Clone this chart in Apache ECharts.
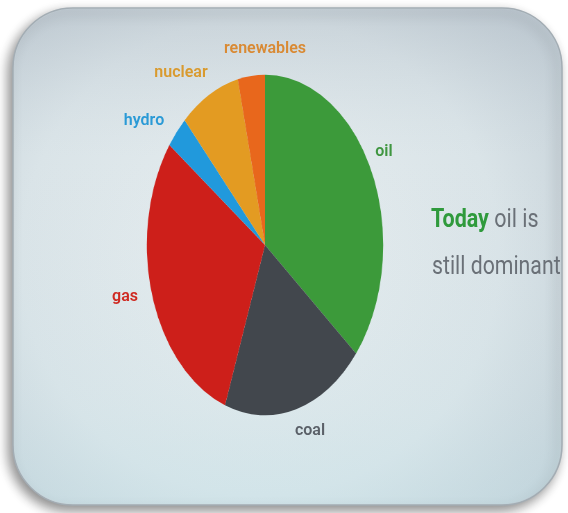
<!DOCTYPE html>
<html>
<head>
<meta charset="utf-8">
<script src="https://cdn.jsdelivr.net/npm/echarts@6/dist/echarts.min.js"></script>
<style>
  html, body { margin: 0; padding: 0; background: #ffffff; }
  #stage { position: relative; width: 568px; height: 513px; overflow: hidden; }
  #bg { position: absolute; left: 0; top: 0; width: 568px; height: 513px; }
  #pie { position: absolute; left: 93px; top: 73px; width: 344px; height: 344px;
         transform: scaleX(0.694); transform-origin: 50% 50%; filter: blur(0.6px); }
</style>
</head>
<body>
<div id="stage">
  <div id="bg"></div>
  <div id="pie"></div>
</div>
<script>
// Share of world primary energy by source (%)
const sources = ['oil', 'coal', 'gas', 'hydro', 'nuclear', 'renewables'];
const shares = [36.0, 19.5, 29.5, 3.1, 8.2, 3.7];
const sliceColors = ['#3c9a3a', '#42474d', '#cd1f1a', '#2199dc', '#e39b22', '#e8671c'];

// Source labels placed around the pie
const labelColors = ['#3f9640', '#5a6068', '#cf2a22', '#2a9ad6', '#d99a2e', '#d98a34'];
const labelPos = [[384, 152], [310, 431], [125, 297], [144, 121], [181, 73], [265, 49]];

const headline = ['Today', ' oil is', 'still dominant'];

const FONT = '"Roboto", "Liberation Sans", sans-serif';

// Background: the rounded slide card and the text
const bg = echarts.init(document.getElementById('bg'), null, { renderer: 'canvas' });
const graphics = [
  {
    type: 'rect', z: 1,
    shape: { x: 13, y: 8, width: 549, height: 497, r: 60 },
    style: {
      fill: {
        type: 'radial', x: 0.45, y: 0.5, r: 0.8,
        colorStops: [
          { offset: 0, color: '#e7eef0' },
          { offset: 0.6, color: '#dae4e8' },
          { offset: 1, color: '#bfcbd3' }
        ]
      },
      stroke: '#a3adb4', lineWidth: 1.5,
      shadowBlur: 12, shadowColor: 'rgba(0,0,0,0.45)', shadowOffsetX: -4, shadowOffsetY: 5
    }
  },
  {
    type: 'rect', z: 2, silent: true,
    shape: { x: 14, y: 9, width: 547, height: 495, r: 59 },
    style: {
      fill: {
        type: 'linear', x: 0, y: 0, x2: 0, y2: 1,
        colorStops: [
          { offset: 0, color: 'rgba(160,170,182,0.3)' },
          { offset: 0.3, color: 'rgba(200,210,218,0)' },
          { offset: 0.8, color: 'rgba(190,228,235,0.12)' },
          { offset: 1, color: 'rgba(190,228,235,0.3)' }
        ]
      }
    }
  }
];
sources.forEach((name, i) => {
  graphics.push({
    type: 'text', z: 5,
    x: labelPos[i][0], y: labelPos[i][1],
    style: {
      text: name, fill: labelColors[i], font: '600 16px ' + FONT,
      textAlign: 'center', textVerticalAlign: 'middle'
    }
  });
});
graphics.push({
  type: 'text', z: 5, x: 431, y: 221, scaleX: 0.86,
  style: {
    rich: {
      g: { fill: '#2f9a3c', font: 'bold 25px ' + FONT },
      d: { fill: '#6a7077', font: '25px ' + FONT }
    },
    text: '{g|' + headline[0] + '}{d|' + headline[1] + '}',
    textVerticalAlign: 'middle'
  }
});
graphics.push({
  type: 'text', z: 5, x: 432, y: 268, scaleX: 0.85,
  style: { text: headline[2], fill: '#6a7077', font: '25px ' + FONT, textVerticalAlign: 'middle' }
});
bg.setOption({ animation: false, graphic: graphics });

// Pie of energy shares
const pie = echarts.init(document.getElementById('pie'), null, { renderer: 'canvas' });
pie.setOption({
  animation: false,
  series: [{
    type: 'pie',
    center: ['50%', '50%'],
    radius: ['0%', '99%'],
    startAngle: 90,
    clockwise: true,
    label: { show: false },
    labelLine: { show: false },
    itemStyle: { borderWidth: 0 },
    data: sources.map((name, i) => ({ name, value: shares[i], itemStyle: { color: sliceColors[i] } }))
  }]
});
</script>
</body>
</html>
